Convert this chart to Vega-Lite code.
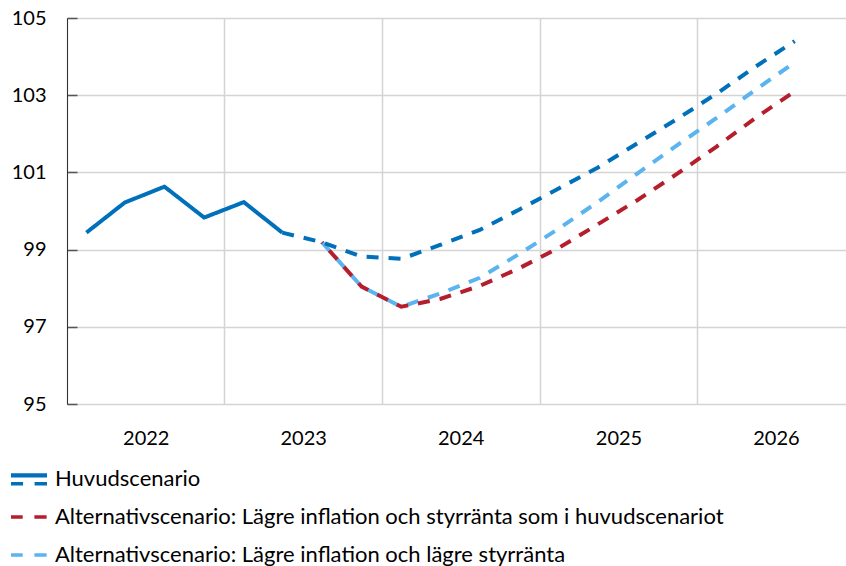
{
  "$schema": "https://vega.github.io/schema/vega-lite/v6.json",
  "width": 779,
  "height": 386,
  "autosize": {"type": "none"},
  "padding": {"left": 67, "top": 18, "right": 0, "bottom": 162},
  "background": "white",
  "config": {
    "view": {"stroke": null},
    "font": "Lato",
    "axis": {"labelFont": "Lato", "labelColor": "#000000", "labelFontSize": 20, "title": null},
    "legend": {"labelFont": "Lato"}
  },
  "data": {
    "values": [
      {"date": "2022-02-15", "value": 99.44, "series": "Huvudscenario", "kind": "Utfall"},
      {"date": "2022-05-15", "value": 100.22, "series": "Huvudscenario", "kind": "Utfall"},
      {"date": "2022-08-15", "value": 100.63, "series": "Huvudscenario", "kind": "Utfall"},
      {"date": "2022-11-15", "value": 99.83, "series": "Huvudscenario", "kind": "Utfall"},
      {"date": "2023-02-15", "value": 100.23, "series": "Huvudscenario", "kind": "Utfall"},
      {"date": "2023-05-15", "value": 99.44, "series": "Huvudscenario", "kind": "Utfall"},
      {"date": "2023-05-15", "value": 99.44, "series": "Huvudscenario", "kind": "Prognos"},
      {"date": "2023-08-15", "value": 99.19, "series": "Huvudscenario", "kind": "Prognos"},
      {"date": "2023-11-15", "value": 98.82, "series": "Huvudscenario", "kind": "Prognos"},
      {"date": "2024-02-15", "value": 98.76, "series": "Huvudscenario", "kind": "Prognos"},
      {"date": "2024-05-15", "value": 99.12, "series": "Huvudscenario", "kind": "Prognos"},
      {"date": "2024-08-15", "value": 99.51, "series": "Huvudscenario", "kind": "Prognos"},
      {"date": "2024-11-15", "value": 100.04, "series": "Huvudscenario", "kind": "Prognos"},
      {"date": "2025-02-15", "value": 100.59, "series": "Huvudscenario", "kind": "Prognos"},
      {"date": "2025-05-15", "value": 101.12, "series": "Huvudscenario", "kind": "Prognos"},
      {"date": "2025-08-15", "value": 101.75, "series": "Huvudscenario", "kind": "Prognos"},
      {"date": "2025-11-15", "value": 102.38, "series": "Huvudscenario", "kind": "Prognos"},
      {"date": "2026-02-15", "value": 103.04, "series": "Huvudscenario", "kind": "Prognos"},
      {"date": "2026-05-15", "value": 103.73, "series": "Huvudscenario", "kind": "Prognos"},
      {"date": "2026-08-15", "value": 104.40, "series": "Huvudscenario", "kind": "Prognos"},
      {"date": "2023-08-15", "value": 99.19, "series": "Alternativscenario: Lägre inflation och styrränta som i huvudscenariot", "kind": "Prognos"},
      {"date": "2023-11-15", "value": 98.04, "series": "Alternativscenario: Lägre inflation och styrränta som i huvudscenariot", "kind": "Prognos"},
      {"date": "2024-02-15", "value": 97.52, "series": "Alternativscenario: Lägre inflation och styrränta som i huvudscenariot", "kind": "Prognos"},
      {"date": "2024-05-15", "value": 97.72, "series": "Alternativscenario: Lägre inflation och styrränta som i huvudscenariot", "kind": "Prognos"},
      {"date": "2024-08-15", "value": 98.06, "series": "Alternativscenario: Lägre inflation och styrränta som i huvudscenariot", "kind": "Prognos"},
      {"date": "2024-11-15", "value": 98.52, "series": "Alternativscenario: Lägre inflation och styrränta som i huvudscenariot", "kind": "Prognos"},
      {"date": "2025-02-15", "value": 99.05, "series": "Alternativscenario: Lägre inflation och styrränta som i huvudscenariot", "kind": "Prognos"},
      {"date": "2025-05-15", "value": 99.65, "series": "Alternativscenario: Lägre inflation och styrränta som i huvudscenariot", "kind": "Prognos"},
      {"date": "2025-08-15", "value": 100.28, "series": "Alternativscenario: Lägre inflation och styrränta som i huvudscenariot", "kind": "Prognos"},
      {"date": "2025-11-15", "value": 100.96, "series": "Alternativscenario: Lägre inflation och styrränta som i huvudscenariot", "kind": "Prognos"},
      {"date": "2026-02-15", "value": 101.67, "series": "Alternativscenario: Lägre inflation och styrränta som i huvudscenariot", "kind": "Prognos"},
      {"date": "2026-05-15", "value": 102.40, "series": "Alternativscenario: Lägre inflation och styrränta som i huvudscenariot", "kind": "Prognos"},
      {"date": "2026-08-15", "value": 103.10, "series": "Alternativscenario: Lägre inflation och styrränta som i huvudscenariot", "kind": "Prognos"},
      {"date": "2023-08-15", "value": 99.19, "series": "Alternativscenario: Lägre inflation och lägre styrränta", "kind": "Prognos"},
      {"date": "2023-11-15", "value": 98.04, "series": "Alternativscenario: Lägre inflation och lägre styrränta", "kind": "Prognos"},
      {"date": "2024-02-15", "value": 97.52, "series": "Alternativscenario: Lägre inflation och lägre styrränta", "kind": "Prognos"},
      {"date": "2024-05-15", "value": 97.86, "series": "Alternativscenario: Lägre inflation och lägre styrränta", "kind": "Prognos"},
      {"date": "2024-08-15", "value": 98.27, "series": "Alternativscenario: Lägre inflation och lägre styrränta", "kind": "Prognos"},
      {"date": "2024-11-15", "value": 98.89, "series": "Alternativscenario: Lägre inflation och lägre styrränta", "kind": "Prognos"},
      {"date": "2025-02-15", "value": 99.55, "series": "Alternativscenario: Lägre inflation och lägre styrränta", "kind": "Prognos"},
      {"date": "2025-05-15", "value": 100.23, "series": "Alternativscenario: Lägre inflation och lägre styrränta", "kind": "Prognos"},
      {"date": "2025-08-15", "value": 100.97, "series": "Alternativscenario: Lägre inflation och lägre styrränta", "kind": "Prognos"},
      {"date": "2025-11-15", "value": 101.70, "series": "Alternativscenario: Lägre inflation och lägre styrränta", "kind": "Prognos"},
      {"date": "2026-02-15", "value": 102.41, "series": "Alternativscenario: Lägre inflation och lägre styrränta", "kind": "Prognos"},
      {"date": "2026-05-15", "value": 103.13, "series": "Alternativscenario: Lägre inflation och lägre styrränta", "kind": "Prognos"},
      {"date": "2026-08-15", "value": 103.85, "series": "Alternativscenario: Lägre inflation och lägre styrränta", "kind": "Prognos"}
    ]
  },
  "encoding": {
    "x": {
      "field": "date",
      "type": "temporal",
      "scale": {
        "type": "utc",
        "domain": [
          {"year": 2022, "month": 1, "date": 1, "utc": true},
          {"year": 2026, "month": 12, "date": 12, "utc": true}
        ]
      },
      "axis": {
        "values": [
          {"year": 2022, "month": 1, "date": 1, "utc": true},
          {"year": 2023, "month": 1, "date": 1, "utc": true},
          {"year": 2024, "month": 1, "date": 1, "utc": true},
          {"year": 2025, "month": 1, "date": 1, "utc": true},
          {"year": 2026, "month": 1, "date": 1, "utc": true}
        ],
        "format": "%Y",
        "domain": false,
        "ticks": false,
        "grid": true,
        "gridColor": "#d4d4d4",
        "gridWidth": 1.5,
        "labelOffset": 78.75,
        "labelAlign": "center",
        "labelFlush": false,
        "labelOverlap": false,
        "labelBound": false,
        "labelPadding": 24,
        "labelBaseline": "top"
      }
    },
    "y": {
      "field": "value",
      "type": "quantitative",
      "scale": {"domain": [95, 105], "nice": false, "zero": false},
      "axis": {
        "values": [95, 97, 99, 101, 103, 105],
        "grid": true,
        "gridColor": "#d4d4d4",
        "gridWidth": 1.5,
        "domain": true,
        "domainColor": "#333333",
        "domainWidth": 1,
        "ticks": true,
        "tickColor": "#555555",
        "tickSize": -10,
        "tickWidth": 1.5,
        "labelPadding": 31
      }
    },
    "color": {
      "field": "series",
      "type": "nominal",
      "scale": {
        "domain": [
          "Huvudscenario",
          "Alternativscenario: Lägre inflation och styrränta som i huvudscenariot",
          "Alternativscenario: Lägre inflation och lägre styrränta"
        ],
        "range": ["#0070BA", "#B41E2D", "#5BB4F0"]
      },
      "legend": {
        "title": null,
        "orient": "none",
        "legendX": -56,
        "legendY": 443,
        "direction": "vertical",
        "padding": 0,
        "symbolType": "M-1,-0.1H-0.35V0.1H-1Z M0.3,-0.1H0.98V0.1H0.3Z",
        "symbolSize": 1296,
        "symbolStrokeWidth": 0,
        "labelFontSize": 22,
        "labelColor": "#000000",
        "labelLimit": 0,
        "labelOffset": 8,
        "rowPadding": 9,
        "encode": {
          "symbols": {
            "update": {
              "shape": {"signal": "datum.value === 'Huvudscenario' ? 'M-1,-0.32H1V-0.09H-1Z M-1,0.17H-0.33V0.36H-1Z M0.31,0.17H1V0.36H0.31Z' : 'M-1,-0.1H-0.35V0.1H-1Z M0.3,-0.1H0.98V0.1H0.3Z'"},
              "fill": {"signal": "datum.value === 'Huvudscenario' ? '#0070BA' : (datum.value === 'Alternativscenario: Lägre inflation och lägre styrränta' ? '#5BB4F0' : '#B41E2D')"},
              "strokeWidth": {"value": 0},
              "opacity": {"value": 1}
            }
          }
        }
      }
    }
  },
  "layer": [
    {
      "transform": [{"filter": "datum.series === 'Alternativscenario: Lägre inflation och lägre styrränta'"}],
      "mark": {"type": "line", "strokeWidth": 4, "strokeDash": [12, 10], "strokeCap": "butt"}
    },
    {
      "transform": [{"filter": "datum.series === 'Alternativscenario: Lägre inflation och styrränta som i huvudscenariot'"}],
      "mark": {"type": "line", "strokeWidth": 4, "strokeDash": [12, 10], "strokeDashOffset": 11, "strokeCap": "butt"}
    },
    {
      "transform": [{"filter": "datum.series === 'Huvudscenario'"}],
      "mark": {"type": "line", "strokeWidth": 4, "strokeCap": "butt"},
      "encoding": {
        "strokeDash": {
          "field": "kind",
          "type": "nominal",
          "scale": {"domain": ["Utfall", "Prognos"], "range": [[1, 0], [12, 10]]},
          "legend": null
        }
      }
    }
  ]
}
